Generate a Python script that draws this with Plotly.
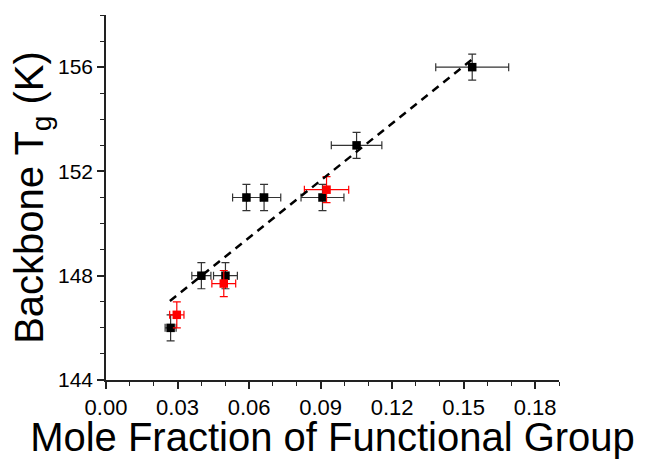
import plotly.graph_objects as go

# Black series
black_x = [0.0271, 0.0400, 0.0501, 0.0589, 0.0663, 0.0908, 0.1051, 0.1536]
black_y = [146.0, 148.0, 148.0, 151.0, 151.0, 151.0, 153.0, 156.0]
black_xerr = [0.0023, 0.0040, 0.0050, 0.0058, 0.0070, 0.0090, 0.0106, 0.0153]
black_yerr = [0.5, 0.5, 0.5, 0.5, 0.5, 0.5, 0.5, 0.5]

# Red series
red_x = [0.0297, 0.0494, 0.0925]
red_y = [146.5, 147.7, 151.3]
red_xerr = [0.0030, 0.0050, 0.0093]
red_yerr = [0.5, 0.5, 0.5]

# Linear fit line (endpoints)
fit_x = [0.0268, 0.1536]
fit_y = [147.03, 156.3]

x_ticks = [0.00, 0.03, 0.06, 0.09, 0.12, 0.15, 0.18]
y_ticks = [144, 148, 152, 156]

FONT = "Liberation Sans, Arial, sans-serif"

fig = go.Figure()
fig.add_trace(go.Scatter(
    x=black_x, y=black_y, mode="markers",
    marker=dict(symbol="square", size=8.5, color="black"),
    error_x=dict(type="data", array=black_xerr, color="#333333", thickness=1.2, width=4),
    error_y=dict(type="data", array=black_yerr, color="#333333", thickness=1.2, width=4),
    showlegend=False))
fig.add_trace(go.Scatter(
    x=red_x, y=red_y, mode="markers",
    marker=dict(symbol="square", size=8.5, color="#ff0000"),
    error_x=dict(type="data", array=red_xerr, color="#ff0000", thickness=1.2, width=4),
    error_y=dict(type="data", array=red_yerr, color="#ff0000", thickness=1.2, width=4),
    showlegend=False))
fig.add_trace(go.Scatter(
    x=fit_x, y=fit_y, mode="lines",
    line=dict(color="black", width=2.5, dash="8px,6px"),
    showlegend=False))

axis_common = dict(
    showline=True, linecolor="#222222", linewidth=1.5, mirror=False,
    showgrid=False, zeroline=False, automargin=False,
    ticks="outside", ticklen=7, tickwidth=1.5, tickcolor="#222222",
)

fig.update_xaxes(
    range=[0, 0.19], tickvals=x_ticks, tickformat=".2f",
    tickfont=dict(family=FONT, size=22, color="black"),
    minor=dict(dtick=0.01, tick0=0, ticks="outside", ticklen=4, tickwidth=1.2, tickcolor="#222222"),
    title=dict(text="Mole Fraction of Functional Group", font=dict(family=FONT, size=40, color="black"), standoff=5),
    **axis_common)
fig.update_yaxes(
    range=[144, 158], tickvals=y_ticks,
    tickfont=dict(family=FONT, size=21, color="black"),
    minor=dict(dtick=1, tick0=144, ticks="outside", ticklen=4, tickwidth=1.2, tickcolor="#222222"),
    title=dict(text="Backbone T<sub>g</sub> (K)", font=dict(family=FONT, size=40, color="black"), standoff=2),
    **axis_common)

fig.update_layout(
    width=648, height=459,
    margin=dict(l=106, r=89, t=15, b=79),
    paper_bgcolor="white", plot_bgcolor="white",
    font=dict(family=FONT),
)

fig.write_html("out.html")
